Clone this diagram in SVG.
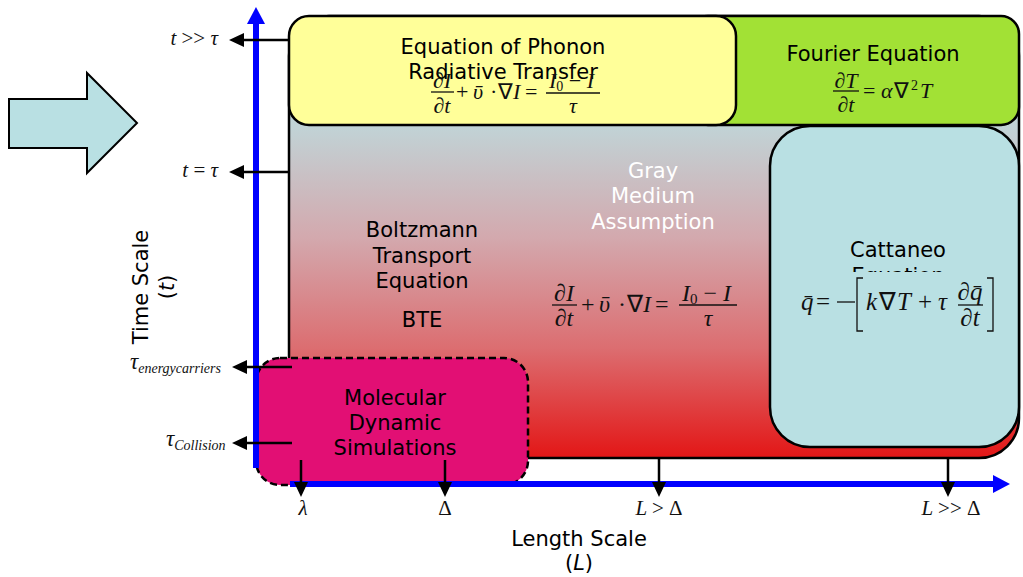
<svg xmlns="http://www.w3.org/2000/svg" width="1023" height="577" viewBox="0 0 1023 577">
<style>
.lbl{font-family:"DejaVu Sans","Verdana",sans-serif;font-size:21px;fill:#000;text-anchor:middle}
.wht{fill:#fff}
.m{font-family:"Liberation Serif","Times New Roman",serif;font-style:italic;fill:#111}
.mu{font-family:"Liberation Serif","Times New Roman",serif;font-style:normal;fill:#111}
.box{stroke:#000;stroke-width:2.5}
.tick{stroke:#000;stroke-width:2.5;fill:none}
.axis{stroke:#0000ff;stroke-width:6;fill:none}
.bar{stroke:#111;stroke-width:1.3}
</style>
<defs>
<linearGradient id="grad" gradientUnits="userSpaceOnUse" x1="0" y1="16" x2="0" y2="458">
<stop offset="0" stop-color="#bcd9dd"/>
<stop offset="0.25" stop-color="#c1d3d6"/>
<stop offset="0.5" stop-color="#d3a9ae"/>
<stop offset="0.75" stop-color="#dc6e71"/>
<stop offset="1" stop-color="#e31616"/>
</linearGradient>
<marker id="ah" viewBox="0 0 15 14" refX="0" refY="7" markerWidth="15" markerHeight="14" markerUnits="userSpaceOnUse" orient="auto"><path d="M0,0 L15,7 L0,14 z" fill="#000"/></marker>
<marker id="bh" viewBox="0 0 17 18" refX="0" refY="9" markerWidth="17" markerHeight="18" markerUnits="userSpaceOnUse" orient="auto"><path d="M0,0 L17,9 L0,18 z" fill="#0000ff"/></marker>
<clipPath id="catclip"><rect x="770" y="0" width="250" height="272"/></clipPath>
</defs>

<g id="bigarrow"><polygon points="9,99 87,99 87,73 137,123 87,173 87,148 9,148" fill="#b9e0e3" stroke="#000" stroke-width="2"/></g>

<g id="bte">
<rect class="box" x="289" y="16" width="730" height="442" rx="40" fill="url(#grad)"/>
<text class="lbl"><tspan x="422" y="237">Boltzmann</tspan><tspan x="422" y="263">Transport</tspan><tspan x="422" y="288">Equation</tspan><tspan x="422" y="327">BTE</tspan></text>
<text class="lbl wht"><tspan x="653" y="178">Gray</tspan><tspan x="653" y="203">Medium</tspan><tspan x="653" y="229">Assumption</tspan></text>
<g font-size="24">
<text class="m" x="564" y="301" text-anchor="middle">∂I</text>
<line class="bar" x1="552" y1="305" x2="577" y2="305"/>
<text class="m" x="564" y="326" text-anchor="middle">∂t</text>
<text class="mu" x="581" y="312">+</text>
<text class="m" x="599" y="312">ῡ</text>
<text class="mu" x="618" y="312">·</text>
<text class="mu" x="627" y="312">∇</text>
<text class="m" x="643" y="312">I</text>
<text class="mu" x="655" y="312">=</text>
<text class="m" x="682" y="301">I<tspan font-size="15" dy="3" font-style="normal">0</tspan><tspan class="mu" dy="-3" font-style="normal"> − </tspan>I</text>
<line class="bar" x1="679" y1="305" x2="737" y2="305"/>
<text class="m" x="708" y="326" text-anchor="middle">τ</text>
</g>
</g>

<g id="fourier">
<rect class="box" x="690" y="16" width="329" height="109" rx="18" fill="#a2e135"/>
<text class="lbl" x="873" y="61">Fourier Equation</text>
<g font-size="22">
<text class="m" x="846" y="88" text-anchor="middle">∂T</text>
<line class="bar" x1="833" y1="91" x2="859" y2="91"/>
<text class="m" x="846" y="112" text-anchor="middle">∂t</text>
<text class="mu" x="863" y="98">=</text>
<text class="m" x="881" y="98">α</text>
<text class="mu" x="894" y="98">∇</text>
<text class="mu" x="911" y="90" font-size="14">2</text>
<text class="m" x="920" y="98">T</text>
</g>
</g>

<g id="phonon">
<rect class="box" x="289" y="16" width="447" height="109" rx="20" fill="#ffff99"/>
<text class="lbl"><tspan x="503" y="54">Equation of Phonon</tspan><tspan x="503" y="79">Radiative Transfer</tspan></text>
<g font-size="22">
<text class="m" x="442" y="88" text-anchor="middle">∂I</text>
<line class="bar" x1="431" y1="92" x2="454" y2="92"/>
<text class="m" x="442" y="113" text-anchor="middle">∂t</text>
<text class="mu" x="456" y="99">+</text>
<text class="m" x="473" y="99">ῡ</text>
<text class="mu" x="490" y="99">·</text>
<text class="mu" x="498" y="99">∇</text>
<text class="m" x="513" y="99">I</text>
<text class="mu" x="525" y="99">=</text>
<text class="m" x="549" y="88">I<tspan font-size="14" dy="3" font-style="normal">0</tspan><tspan class="mu" dy="-3" font-style="normal"> − </tspan>I</text>
<line class="bar" x1="546" y1="93" x2="600" y2="93"/>
<text class="m" x="573" y="113" text-anchor="middle">τ</text>
</g>
</g>

<g id="cattaneo">
<rect class="box" x="770" y="126" width="249" height="321" rx="40" fill="#b9e0e3"/>
<text class="lbl" x="898" y="257">Cattaneo</text>
<text class="lbl" x="898" y="283" clip-path="url(#catclip)">Equation</text>
<g font-size="25">
<text class="m" x="801" y="310">q̄</text>
<text class="mu" x="816" y="310">=</text>
<line class="bar" x1="837" y1="302" x2="855" y2="302"/>
<path d="M863,278 H857 V331 H863" class="bar" fill="none"/>
<text class="m" x="866" y="310">k</text>
<text class="mu" x="879" y="310">∇</text>
<text class="m" x="897" y="310">T</text>
<text class="mu" x="918" y="310">+</text>
<text class="m" x="938" y="310">τ</text>
<text class="m" x="970" y="300" text-anchor="middle">∂q̄</text>
<line class="bar" x1="958" y1="305" x2="983" y2="305"/>
<text class="m" x="970" y="326" text-anchor="middle">∂t</text>
<path d="M987,278 H993 V331 H987" class="bar" fill="none"/>
</g>
</g>

<g id="md">
<rect x="256" y="358" width="272" height="127" rx="24" fill="#e20f74" stroke="#000" stroke-width="2.5" stroke-dasharray="7,4"/>
<text class="lbl"><tspan x="395" y="405">Molecular</tspan><tspan x="395" y="430">Dynamic</tspan><tspan x="395" y="455">Simulations</tspan></text>
</g>

<g id="connectors">
<line class="axis" x1="256" y1="468" x2="256" y2="24" marker-end="url(#bh)"/>
<line class="axis" x1="290" y1="484" x2="993" y2="484" marker-end="url(#bh)"/>
<line class="tick" x1="289" y1="40" x2="244" y2="40" marker-end="url(#ah)"/>
<line class="tick" x1="289" y1="172" x2="244" y2="172" marker-end="url(#ah)"/>
<line class="tick" x1="292" y1="367" x2="247" y2="367" marker-end="url(#ah)"/>
<line class="tick" x1="292" y1="443" x2="247" y2="443" marker-end="url(#ah)"/>
<line class="tick" x1="301" y1="460" x2="301" y2="482" marker-end="url(#ah)"/>
<line class="tick" x1="445" y1="460" x2="445" y2="482" marker-end="url(#ah)"/>
<line class="tick" x1="659" y1="458" x2="659" y2="482" marker-end="url(#ah)"/>
<line class="tick" x1="948" y1="458" x2="948" y2="482" marker-end="url(#ah)"/>
</g>

<g id="labels" font-size="21">
<text class="m" x="218" y="45" text-anchor="end">t <tspan class="mu" font-style="normal">&gt;&gt;</tspan> τ</text>
<text class="m" x="218" y="177" text-anchor="end">t <tspan class="mu" font-style="normal">=</tspan> τ</text>
<text class="m" x="130" y="369" font-size="23">τ<tspan font-size="14" dy="4">energycarriers</tspan></text>
<text class="m" x="166" y="446" font-size="23">τ<tspan font-size="14" dy="4">Collision</tspan></text>
<text class="m" x="303" y="515" text-anchor="middle">λ</text>
<text class="mu" x="445" y="515" text-anchor="middle">Δ</text>
<text class="m" x="659" y="515" text-anchor="middle">L <tspan class="mu" font-style="normal">&gt; Δ</tspan></text>
<text class="m" x="951" y="515" text-anchor="middle">L <tspan class="mu" font-style="normal">&gt;&gt; Δ</tspan></text>
</g>

<g id="axislabels">
<text class="lbl" x="579" y="546" text-anchor="start">Length Scale</text>
<text class="lbl" x="579" y="570" text-anchor="start">(<tspan font-style="italic">L</tspan>)</text>
<text class="lbl" transform="translate(148,287) rotate(-90)" x="0" y="0" text-anchor="start">Time Scale</text>
<text class="lbl" transform="translate(174,287) rotate(-90)" x="0" y="0" text-anchor="start">(<tspan font-style="italic">t</tspan>)</text>
</g>
</svg>
